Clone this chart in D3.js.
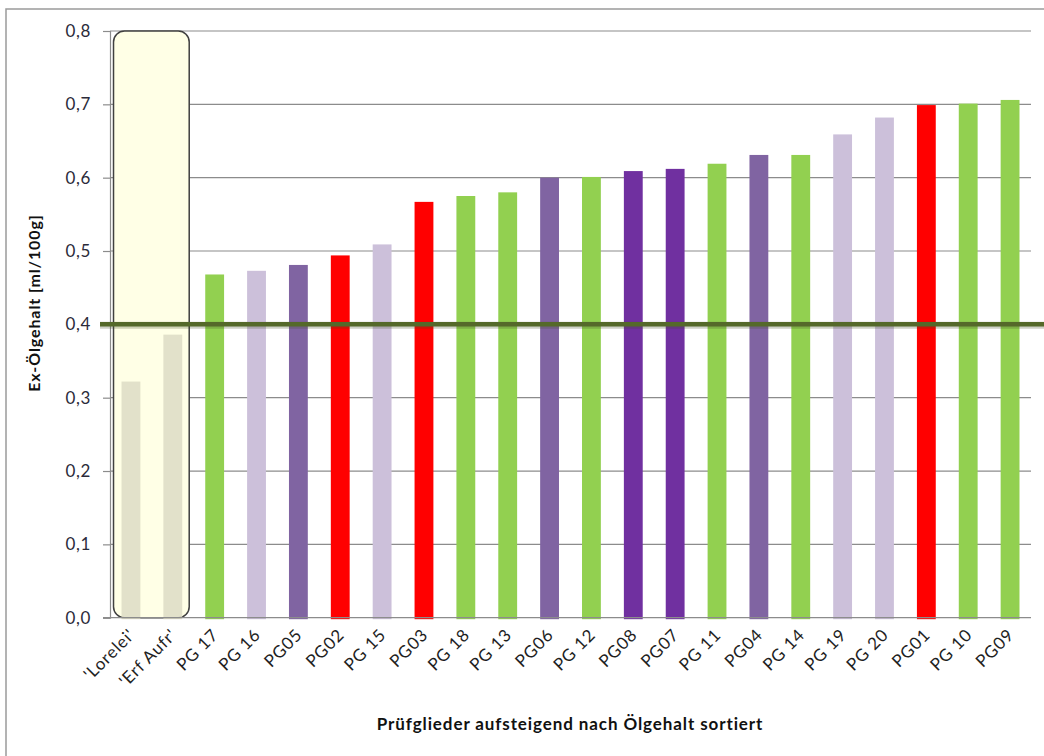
<!DOCTYPE html>
<html>
<head>
<meta charset="utf-8">
<script src="https://cdn.jsdelivr.net/npm/d3@7"></script>
<style>
  body { margin: 0; background: #fff; }
  text { font-family: Lato, 'Open Sans', sans-serif; }
</style>
</head>
<body>
<div id="chart"></div>
<script>
// Data
const LABELS = ["'Lorelei'", "'Erf Aufr'", 'PG 17', 'PG 16', 'PG05', 'PG02', 'PG 15', 'PG03', 'PG 18', 'PG 13',
  'PG06', 'PG 12', 'PG08', 'PG07', 'PG 11', 'PG04', 'PG 14', 'PG 19', 'PG 20', 'PG01', 'PG 10', 'PG09']
const VALUES = [0.322, 0.386, 0.468, 0.473, 0.481, 0.494, 0.509, 0.567, 0.575, 0.580,
  0.600, 0.601, 0.609, 0.612, 0.619, 0.631, 0.631, 0.659, 0.682, 0.699, 0.701, 0.706]
const GROUPS = ['ref', 'ref', 'green', 'lav', 'purple', 'red', 'lav', 'red', 'green', 'green',
  'purple', 'green', 'dark', 'dark', 'green', 'purple', 'green', 'lav', 'lav', 'red', 'green', 'green']
const Y_TICKS = [0, 0.1, 0.2, 0.3, 0.4, 0.5, 0.6, 0.7, 0.8]
const THRESHOLD = 0.4
const HIGHLIGHTED = ["'Lorelei'", "'Erf Aufr'"]

const WIDTH = 1044
const HEIGHT = 756

const colors = d3.scaleOrdinal()
  .domain(['ref', 'green', 'lav', 'purple', 'red', 'dark'])
  .range(['#DDDCC4', '#92D050', '#CCC0DA', '#8064A2', '#FF0000', '#7030A0'])

var svg = d3.select('#chart').append('svg')
  .attr('width', WIDTH)
  .attr('height', HEIGHT)

// outer frame
svg.append('rect')
  .attr('x', 6).attr('y', 9)
  .attr('width', WIDTH + 10).attr('height', HEIGHT + 10)
  .attr('fill', 'none').attr('stroke', '#9a9a9a').attr('stroke-width', 1.5)

var x = d3.scaleBand()
  .domain(LABELS)
  .range([110, 1031])
  .paddingInner(0.55)
  .paddingOuter(0.275)

var y = d3.scaleLinear()
  .domain([0, 0.8])
  .range([617.7, 31])

var fmt = d => d3.format('.1f')(d).replace('.', ',')

// gridlines
svg.append('g').selectAll('line').data(Y_TICKS.filter(d => d > 0)).enter().append('line')
  .attr('x1', 110).attr('x2', 1031)
  .attr('y1', d => y(d)).attr('y2', d => y(d))
  .attr('stroke', '#8c8c8c').attr('stroke-width', 1.2)

// y axis
var yAxis = svg.append('g')
  .attr('transform', 'translate(110,0)')
  .call(d3.axisLeft(y).tickValues(Y_TICKS).tickFormat(fmt).tickSize(7).tickPadding(12))
yAxis.select('.domain').attr('stroke', '#8c8c8c').attr('stroke-width', 1.2)
yAxis.selectAll('.tick line').attr('stroke', '#8c8c8c').attr('stroke-width', 1.2)
yAxis.selectAll('text')
  .attr('font-size', 17).attr('fill', '#2b2b3a')
  .style('font-family', 'Lato, sans-serif')
  .style('letter-spacing', '0.6px')

// highlight box for the reference varieties
var hx0 = x(HIGHLIGHTED[0]) - 8
var hx1 = x(HIGHLIGHTED[1]) + x.bandwidth() + 7
svg.append('rect')
  .attr('x', hx0).attr('y', y(0.8))
  .attr('width', hx1 - hx0).attr('height', y(0) - y(0.8))
  .attr('rx', 11).attr('ry', 11)
  .attr('fill', '#FFFFE6')
  .attr('stroke', '#404040').attr('stroke-width', 1.5)

// bars
svg.append('g').selectAll('rect').data(LABELS).enter().append('rect')
  .attr('x', d => x(d))
  .attr('y', (d, i) => y(VALUES[i]))
  .attr('width', x.bandwidth())
  .attr('height', (d, i) => y(0) - y(VALUES[i]) + 1.5)
  .attr('fill', (d, i) => colors(GROUPS[i]))
  .attr('fill-opacity', (d, i) => GROUPS[i] === 'ref' ? 0.85 : 1)

// x axis line
svg.append('line')
  .attr('x1', 103).attr('x2', 1031)
  .attr('y1', y(0)).attr('y2', y(0))
  .attr('stroke', '#8c8c8c').attr('stroke-width', 1.2)

// threshold line
svg.append('line')
  .attr('x1', 100).attr('x2', WIDTH)
  .attr('y1', y(THRESHOLD) + 1).attr('y2', y(THRESHOLD) + 1)
  .attr('stroke', '#3f4a22').attr('stroke-opacity', 0.25).attr('stroke-width', 7)
svg.append('line')
  .attr('x1', 100).attr('x2', WIDTH)
  .attr('y1', y(THRESHOLD)).attr('y2', y(THRESHOLD))
  .attr('stroke', '#55692A').attr('stroke-width', 4.5)

// category labels
svg.append('g').selectAll('text').data(LABELS).enter().append('text')
  .attr('transform', d => 'translate(' + (x(d) + x.bandwidth() / 2 + 5) + ',636) rotate(-45)')
  .attr('text-anchor', 'end')
  .attr('font-size', 17)
  .attr('fill', '#1f1f1f')
  .style('letter-spacing', '0.8px')
  .text(d => d)

// axis titles
svg.append('text')
  .attr('transform', 'translate(40,303) rotate(-90)')
  .attr('text-anchor', 'middle')
  .attr('font-size', 16).attr('font-weight', 'bold').attr('fill', '#111')
  .style('letter-spacing', '0.9px')
  .text('Ex-Ölgehalt  [ml/100g]')

svg.append('text')
  .attr('x', 570).attr('y', 730)
  .attr('text-anchor', 'middle')
  .attr('font-size', 17).attr('font-weight', 'bold').attr('fill', '#111')
  .style('letter-spacing', '0.9px')
  .text('Prüfglieder aufsteigend  nach Ölgehalt  sortiert')
</script>
</body>
</html>
